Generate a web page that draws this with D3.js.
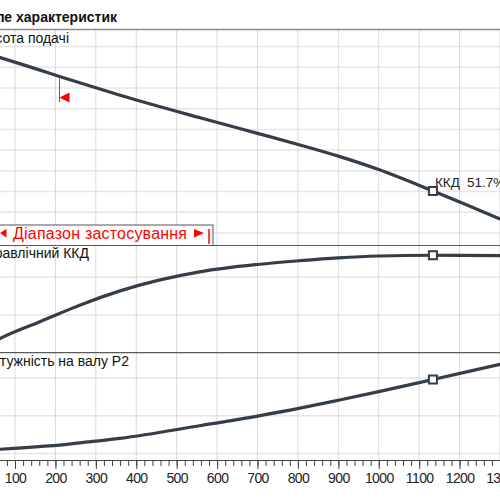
<!DOCTYPE html>
<html>
<head>
<meta charset="utf-8">
<script src="https://cdn.jsdelivr.net/npm/d3@7"></script>
<style>
  body { margin: 0; background: #fff; }
  text { font-family: "Liberation Sans", Arial, sans-serif; }
</style>
</head>
<body>
<div id="chart"></div>
<script>
// Flow points (m³/h) shared by the three curves
const flow = [0, 63, 160, 210, 260, 360, 560, 700, 805, 900, 1000, 1134, 1300, 1400];
// Head, m
const head = [17.75, 16.95, 15.75, 15.12, 14.5, 13.3, 11.1, 9.62, 8.5, 7.42, 6.12, 4.05, 1.35, -0.35];
// Hydraulic efficiency, %
const efficiency = [0, 7.5, 16.3, 20.8, 25.2, 32.8, 43, 46.8, 48.8, 50.3, 51.3, 51.7, 51.5, 50.8];
// Shaft power P2, kW
const power = [0.06, 0.11, 0.18, 0.22, 0.28, 0.40, 0.74, 0.99, 1.20, 1.41, 1.64, 1.96, 2.36, 2.60];

const dutyIndex = 11;          // duty point at 1134 m³/h
const rangeStart = 210;        // left end of the application range
const rangeEnd = 580;
const xTickValues = d3.range(0, 1400, 100);
const xMinorValues = d3.range(0, 1400, 20);
const headGrid = d3.range(0, 20, 2);
const effGrid = [20, 40];
const powGrid = [0, 1, 2];

const width = 500;
const height = 500;
const curveColor = "#343e48";

const svg = d3
  .select("#chart")
  .append("svg")
  .attr("width", width)
  .attr("height", height);

// Scales
const x = d3.scaleLinear().domain([0, 1300]).range([-25.4, 500]);
const yHead = d3.scaleLinear().domain([0, 18]).range([232.9, 46.6]);
const yEff = d3.scaleLinear().domain([0, 60]).range([352.7, 239.6]);
const yPow = d3.scaleLinear().domain([0, 3]).range([453.4, 340.3]);

const panels = [
  { top: 29.5, bottom: 245.5 },
  { top: 245.5, bottom: 352.7 },
  { top: 352.7, bottom: 460 },
];

// Clip paths for each panel
const defs = svg.append("defs");
panels.forEach((p, i) => {
  defs.append("clipPath")
    .attr("id", "clip" + i)
    .append("rect")
    .attr("x", -40)
    .attr("y", p.top)
    .attr("width", width + 80)
    .attr("height", p.bottom - p.top);
});

// Horizontal grid
const hGrid = svg.append("g").attr("stroke", "#e6e6e6").attr("stroke-width", 1.5);
hGrid.selectAll(".gh").data(headGrid).enter().append("line")
  .attr("x1", 0).attr("x2", width)
  .attr("y1", (d) => yHead(d)).attr("y2", (d) => yHead(d));
hGrid.selectAll(".ge").data(effGrid).enter().append("line")
  .attr("x1", 0).attr("x2", width)
  .attr("y1", (d) => yEff(d)).attr("y2", (d) => yEff(d));
hGrid.selectAll(".gp").data(powGrid).enter().append("line")
  .attr("x1", 0).attr("x2", width)
  .attr("y1", (d) => yPow(d)).attr("y2", (d) => yPow(d));

// Vertical grid
svg.append("g")
  .attr("stroke", "#d9d9d9")
  .attr("stroke-width", 1)
  .selectAll("line")
  .data(xTickValues)
  .enter()
  .append("line")
  .attr("x1", (d) => x(d)).attr("x2", (d) => x(d))
  .attr("y1", 29.5).attr("y2", 460);

// Panel borders
svg.append("line").attr("x1", 0).attr("x2", width).attr("y1", 29.5).attr("y2", 29.5)
  .attr("stroke", "#8c8c8c").attr("stroke-width", 1.5);
[245.5, 352.7].forEach((y) => {
  svg.append("line").attr("x1", 0).attr("x2", width).attr("y1", y).attr("y2", y)
    .attr("stroke", "#5a5a5a").attr("stroke-width", 1.2);
});

// X axis with major and minor ticks
const minorAxis = d3.axisBottom(x).tickValues(xMinorValues).tickSize(6).tickSizeOuter(0).tickFormat("");
svg.append("g")
  .attr("transform", "translate(0,460)")
  .call(minorAxis)
  .call((g) => g.select(".domain").attr("stroke", "#444"))
  .call((g) => g.selectAll(".tick line").attr("stroke", "#444"));

const majorAxis = d3.axisBottom(x)
  .tickValues(xTickValues)
  .tickSize(9)
  .tickSizeOuter(0)
  .tickFormat(d3.format("d"));
svg.append("g")
  .attr("transform", "translate(0,460)")
  .call(majorAxis)
  .call((g) => g.select(".domain").remove())
  .call((g) => g.selectAll(".tick line").attr("stroke", "#444"))
  .call((g) => g.selectAll(".tick text")
    .attr("y", 13)
    .attr("fill", "#222")
    .style("font-size", "14px")
    .style("letter-spacing", "-0.6px")
    .style("font-family", '"Liberation Sans", Arial, sans-serif'));

// Curves
const series = [
  { values: head, y: yHead, clip: 0 },
  { values: efficiency, y: yEff, clip: 1 },
  { values: power, y: yPow, clip: 2 },
];

series.forEach((s) => {
  const line = d3.line()
    .x((d, i) => x(flow[i]))
    .y((d) => s.y(d))
    .curve(d3.curveMonotoneX);

  svg.append("path")
    .datum(s.values)
    .attr("clip-path", `url(#clip${s.clip})`)
    .attr("d", line)
    .attr("fill", "none")
    .attr("stroke", curveColor)
    .attr("stroke-width", 3.2)
    .attr("stroke-linecap", "round");

  svg.append("rect")
    .attr("x", x(flow[dutyIndex]) - 4)
    .attr("y", s.y(s.values[dutyIndex]) - 4)
    .attr("width", 8)
    .attr("height", 8)
    .attr("fill", "#fff")
    .attr("stroke", curveColor)
    .attr("stroke-width", 2);
});

// Red marker for the start of the application range on the head curve
const rx = x(rangeStart);
const rHead = yHead(head[3]);
svg.append("line")
  .attr("x1", rx).attr("x2", rx)
  .attr("y1", rHead + 2).attr("y2", rHead + 26)
  .attr("stroke", "#ff2020").attr("stroke-width", 1);
svg.append("path")
  .attr("d", `M${rx},${rHead + 21} L${rx + 10},${rHead + 16} L${rx + 10},${rHead + 26} Z`)
  .attr("fill", "#ff0000");

// Duty point label
svg.append("text").attr("x", x(flow[dutyIndex]) + 2).attr("y", 187)
  .style("font-size", "13.5px").attr("fill", "#222").text("ККД");
svg.append("text").attr("x", x(flow[dutyIndex]) + 34).attr("y", 187)
  .style("font-size", "13.5px").attr("fill", "#222").text("51.7%");

// Application range box
const rangeBox = svg.append("g");
rangeBox.append("rect")
  .attr("x", -10).attr("y", 225)
  .attr("width", 223).attr("height", 20.5)
  .attr("fill", "#fff").attr("stroke", "#555").attr("stroke-width", 1);
rangeBox.append("path")
  .attr("d", "M0,233 L6.5,229 L6.5,237.5 Z")
  .attr("fill", "#ff0000");
rangeBox.append("path")
  .attr("d", "M204,233 L194,229 L194,237.5 Z")
  .attr("fill", "#ff0000");
rangeBox.append("line")
  .attr("x1", x(rangeEnd)).attr("x2", x(rangeEnd))
  .attr("y1", 229).attr("y2", 244)
  .attr("stroke", "#ff0000").attr("stroke-width", 1.5);
rangeBox.append("text")
  .attr("x", 13).attr("y", 239)
  .attr("textLength", 174).attr("lengthAdjust", "spacing")
  .style("font-size", "16px").attr("fill", "#ff0000")
  .text("Діапазон застосування");

// Titles and panel labels (cut at the left edge)
svg.append("text").attr("x", 117).attr("y", 21.5).attr("text-anchor", "end")
  .style("font-size", "14px").style("font-weight", "bold").attr("fill", "#111")
  .text("Поле характеристик");

const labels = [
  { text: "Висота подачі", x: 69, y: 42.5 },
  { text: "Гідравлічний ККД", x: 89, y: 258 },
  { text: "Потужність на валу P2", x: 129, y: 366 },
];
svg.selectAll(".panel-label")
  .data(labels)
  .enter()
  .append("text")
  .attr("class", "panel-label")
  .attr("x", (d) => d.x)
  .attr("y", (d) => d.y)
  .attr("text-anchor", "end")
  .style("font-size", "14px")
  .attr("fill", "#111")
  .text((d) => d.text);
</script>
</body>
</html>
